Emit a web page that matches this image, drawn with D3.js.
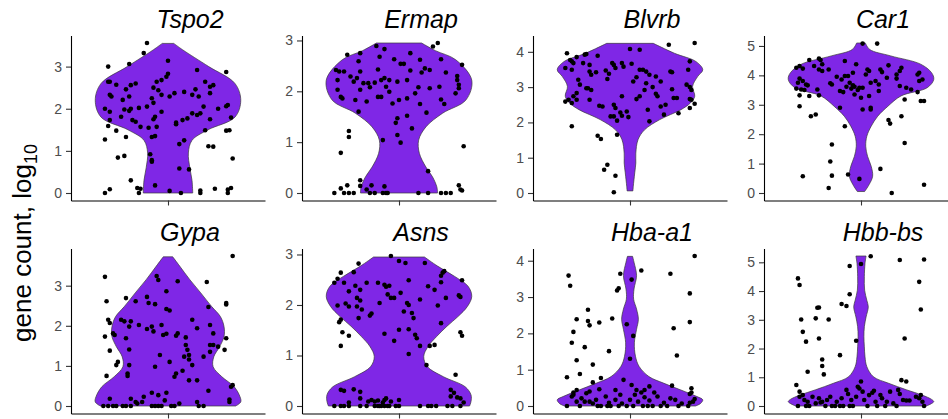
<!DOCTYPE html>
<html lang="en">
<head>
<meta charset="utf-8">
<title>Violin plots</title>
<script src="https://d3js.org/d3.v7.min.js"></script>
<style>
  body { margin: 0; background: #fff; }
  text { font-family: "Liberation Sans", Arial, Helvetica, sans-serif; }
</style>
</head>
<body>
<script>

// gene panels, left to right, top to bottom
var genes = ["Tspo2", "Ermap", "Blvrb", "Car1", "Gypa", "Asns", "Hba-a1", "Hbb-bs"];

// violin outlines: [log10 count, relative half width]
var tspo2Violin = [[0,0.34],[0.3,0.33],[0.6,0.3],[0.95,0.28],[1.25,0.33],[1.5,0.55],[1.8,0.92],[2.2,1.0],[2.6,0.92],[3.0,0.56],[3.4,0.2],[3.55,0.08]];
var ermapViolin = [[0,0.53],[0.12,0.52],[0.32,0.46],[0.51,0.37],[0.78,0.28],[1.04,0.27],[1.3,0.37],[1.57,0.6],[1.83,0.92],[2.22,1.0],[2.62,0.78],[2.8,0.5],[2.95,0.31]];
var blvrbViolin = [[0.06,0.04],[0.19,0.045],[0.57,0.065],[0.85,0.08],[1.13,0.08],[1.51,0.11],[1.79,0.2],[2.08,0.41],[2.36,0.7],[2.55,0.83],[2.74,0.89],[3.02,0.86],[3.3,0.93],[3.49,1.0],[3.72,0.91],[3.96,0.61],[4.24,0.32]];
var car1Violin = [[0.05,0.05],[0.28,0.11],[0.57,0.16],[0.91,0.14],[1.25,0.09],[1.59,0.065],[1.93,0.08],[2.27,0.14],[2.61,0.23],[2.95,0.37],[3.3,0.55],[3.58,0.91],[3.86,1.0],[4.09,0.97],[4.38,0.82],[4.66,0.41],[4.88,0.12],[5.1,0.06]];
var gypaViolin = [[0,0.93],[0.1,1.0],[0.23,0.99],[0.48,0.91],[0.73,0.74],[0.98,0.62],[1.23,0.63],[1.48,0.71],[1.73,0.77],[1.98,0.77],[2.23,0.72],[2.48,0.6],[2.82,0.45],[3.15,0.3],[3.49,0.16],[3.72,0.065]];
var asnsViolin = [[0,0.97],[0.09,0.99],[0.22,0.99],[0.38,0.91],[0.58,0.61],[0.78,0.39],[0.98,0.34],[1.18,0.4],[1.38,0.52],[1.58,0.66],[1.77,0.81],[1.97,0.94],[2.17,1.0],[2.37,0.95],[2.57,0.76],[2.77,0.53],[2.95,0.35]];
var hbaViolin = [[0,0.9],[0.07,0.97],[0.17,1.0],[0.26,0.92],[0.44,0.7],[0.63,0.46],[0.81,0.26],[1.09,0.125],[1.37,0.075],[1.74,0.06],[2.11,0.09],[2.39,0.115],[2.67,0.09],[2.94,0.05],[3.22,0.055],[3.59,0.09],[3.96,0.055],[4.12,0.035]];
var hbbViolin = [[0,0.9],[0.15,1.0],[0.23,0.97],[0.38,0.84],[0.56,0.63],[0.79,0.38],[1.02,0.17],[1.37,0.08],[1.71,0.055],[2.06,0.046],[2.41,0.04],[2.76,0.046],[3.1,0.07],[3.45,0.1],[3.68,0.08],[4.03,0.05],[4.5,0.046],[4.96,0.055],[5.22,0.07]];

// cells: [jitter offset, log10 count]
var tspo2Points = [[-0.37,3.0],[-0.13,3.56],[-0.15,3.32],[-0.24,3.06],[-0.37,2.64],[-0.36,2.64],[-0.32,2.57],[-0.36,2.33],[-0.35,2.29],[-0.39,2.0],[-0.36,1.93],[-0.37,1.59],[-0.36,1.73],[-0.39,1.27],[-0.32,1.48],[-0.31,0.84],[-0.27,0.88],[-0.26,1.33],[-0.23,0.30],[-0.19,0.12],[-0.39,0],[-0.36,0.09],[-0.18,0],[-0.17,0.1],[-0.08,0.18],[-0.26,2.46],[-0.23,2.56],[-0.20,2.6],[-0.28,2.21],[-0.24,2.29],[-0.27,1.98],[-0.24,1.95],[-0.23,2.0],[-0.29,1.81],[-0.22,1.73],[-0.20,1.69],[-0.18,2.02],[-0.13,2.05],[-0.17,1.57],[-0.12,1.55],[-0.10,2.25],[-0.09,2.14],[-0.09,2.5],[-0.07,2.64],[-0.04,2.68],[-0.01,2.76],[0,2.83],[0,3.14],[-0.04,2.33],[-0.06,2.44],[-0.08,1.81],[-0.09,1.75],[-0.07,1.57],[-0.10,1.33],[-0.08,1.35],[-0.11,0.92],[-0.10,0.78],[-0.10,0.74],[-0.04,1.93],[0.04,2.37],[0.01,2.29],[0.05,1.67],[0.05,1.63],[0.07,1.16],[0.10,1.25],[0.07,0.58],[0.13,0.56],[0.10,2.4],[0.09,1.73],[0.12,1.77],[0.15,2.33],[0.17,2.46],[0.18,1.85],[0.15,1.89],[0.20,1.89],[0.18,2.92],[0.19,2.29],[0.23,1.49],[0.25,1.11],[0.23,2.64],[0.26,2.52],[0.28,2.56],[0.26,2.37],[0.22,2.05],[0.26,1.75],[0.31,2.0],[0.28,1.10],[0.01,0.05],[0.20,0],[0.29,0.1],[0.20,0.06],[0.37,0.08],[0.39,0.12],[0.37,0],[0.36,2.87],[0.37,2.09],[0.36,2.06],[0.39,1.79],[0.36,1.48],[0.38,1.49],[0.40,0.82],[0.08,0]];
var ermapPoints = [[-0.40,0],[-0.36,0.09],[-0.34,0],[-0.31,0],[-0.32,0.15],[-0.28,0],[-0.24,0.25],[-0.24,0.14],[-0.20,0.07],[-0.17,0.15],[-0.18,0],[-0.15,0],[-0.10,0],[-0.08,0],[-0.09,0.13],[-0.07,0],[0.12,0],[0.18,0],[0.18,0.43],[0.26,0],[0.29,0],[0.32,0],[0.37,0.15],[0.38,0.07],[0.39,0.05],[0.40,0.92],[-0.36,0.79],[-0.31,1.22],[-0.31,1.1],[-0.10,1.04],[-0.01,1.14],[0.01,0.99],[-0.01,1.47],[-0.02,1.38],[0.05,1.52],[0.08,1.27],[0.17,1.58],[-0.39,2.42],[-0.37,2.39],[-0.34,2.39],[-0.38,2.22],[-0.38,2.03],[-0.36,1.89],[-0.35,1.86],[-0.32,2.72],[-0.30,2.29],[-0.28,2.19],[-0.26,2.26],[-0.25,2.59],[-0.24,2.75],[-0.24,2.39],[-0.27,1.83],[-0.25,1.6],[-0.22,2.16],[-0.24,2.03],[-0.19,2.16],[-0.18,2.08],[-0.20,1.8],[-0.14,2.89],[-0.12,2.68],[-0.13,2.43],[-0.13,1.89],[-0.11,1.89],[-0.15,2.17],[-0.11,2.22],[-0.09,2.26],[-0.06,2.22],[-0.09,2.83],[-0.06,1.99],[-0.08,2.09],[-0.03,2.63],[-0.01,2.19],[0,1.83],[-0.04,1.76],[0.01,2.54],[0.03,2.54],[0.05,2.22],[0.07,2.41],[0.07,2.75],[0.05,1.86],[0.10,1.96],[0.12,2.08],[0.14,2.37],[0.13,2.62],[0.13,1.75],[0.16,2.45],[0.19,2.42],[0.19,2.06],[0.21,2.88],[0.24,2.95],[0.26,2.63],[0.25,2.09],[0.26,1.84],[0.28,1.75],[0.29,2.37],[0.36,2.3],[0.36,2.22],[0.37,2.13],[0.37,2.06],[0.35,1.96],[0.39,2.52]];
var blvrbPoints = [[-0.39,3.96],[-0.40,3.54],[-0.37,3.77],[-0.36,3.73],[-0.35,3.68],[-0.33,3.85],[-0.36,3.49],[-0.40,2.59],[-0.38,2.64],[-0.35,2.74],[-0.36,2.55],[-0.33,2.83],[-0.32,3.21],[-0.31,3.07],[-0.33,2.64],[-0.36,1.89],[-0.28,3.92],[-0.27,3.94],[-0.29,3.68],[-0.25,3.63],[-0.25,3.44],[-0.24,3.35],[-0.27,2.97],[-0.26,2.97],[-0.24,2.92],[-0.25,2.64],[-0.20,3.89],[-0.21,3.42],[-0.19,2.47],[-0.17,2.45],[-0.20,1.62],[-0.18,1.53],[-0.16,0.66],[-0.14,0.80],[-0.14,3.23],[-0.13,3.38],[-0.15,3.47],[-0.11,3.68],[-0.10,3.63],[-0.09,3.54],[-0.10,2.5],[-0.09,2.41],[-0.12,2.17],[-0.10,2.17],[-0.08,2.05],[-0.09,0.49],[-0.10,0.02],[-0.08,1.65],[-0.06,2.28],[-0.05,3.68],[-0.04,3.58],[-0.05,2.19],[-0.02,2.31],[-0.01,2.15],[-0.05,2.74],[0,4.08],[0.01,3.66],[0.02,3.16],[0.04,3.28],[0.06,4.06],[0.04,2.66],[0.06,2.74],[0.06,3.49],[0.08,3.49],[0.10,3.44],[0.12,3.35],[0.09,2.92],[0.10,3.11],[0.11,2.36],[0.12,2.03],[0.14,3.0],[0.16,2.81],[0.16,3.3],[0.17,2.74],[0.19,2.45],[0.21,2.22],[0.22,2.5],[0.19,3.16],[0.24,4.2],[0.25,3.44],[0.26,3.42],[0.26,2.94],[0.27,2.69],[0.29,2.69],[0.30,2.26],[0.37,3.73],[0.36,3.49],[0.35,3.07],[0.37,3.0],[0.38,2.92],[0.37,2.66],[0.38,2.64],[0.40,2.53],[0.40,4.25],[0.37,2.41]];
var car1Points = [[-0.40,4.26],[-0.38,4.32],[-0.36,4.23],[-0.32,4.52],[-0.38,3.89],[-0.40,3.55],[-0.39,3.75],[-0.36,3.81],[-0.34,3.69],[-0.33,3.66],[-0.37,3.52],[-0.35,3.5],[-0.38,3.32],[-0.38,2.95],[-0.32,3.3],[-0.31,2.61],[-0.28,2.67],[-0.36,0.57],[-0.29,4.32],[-0.26,4.57],[-0.25,4.52],[-0.24,4.38],[-0.26,4.2],[-0.24,4.15],[-0.27,3.52],[-0.26,3.32],[-0.20,4.2],[-0.19,3.73],[-0.18,3.69],[-0.18,1.65],[-0.19,1.07],[-0.18,0.59],[-0.20,0.17],[-0.15,3.95],[-0.12,3.86],[-0.13,3.47],[-0.11,3.43],[-0.13,2.9],[-0.10,2.27],[-0.10,4.49],[-0.10,3.98],[-0.08,3.98],[-0.09,3.61],[-0.07,3.75],[-0.06,3.55],[-0.05,3.66],[-0.04,3.35],[-0.08,0.63],[-0.05,4.09],[-0.03,4.38],[-0.04,3.61],[-0.02,3.5],[-0.01,3.58],[0,3.24],[0.01,2.84],[0.01,5.08],[-0.01,0.48],[0.01,3.58],[0.03,4.03],[0.04,4.2],[0.05,4.15],[0.06,3.75],[0.05,3.3],[0.06,2.9],[0.06,2.84],[0.10,5.08],[0.09,3.81],[0.11,3.69],[0.12,4.2],[0.13,4.11],[0.11,3.47],[0.12,0.82],[0.16,3.92],[0.17,4.34],[0.17,2.48],[0.18,2.36],[0.19,0],[0.22,3.89],[0.22,4.03],[0.24,4.15],[0.25,4.26],[0.24,3.64],[0.25,2.61],[0.27,3.18],[0.27,1.7],[0.28,3.58],[0.31,3.52],[0.35,4.03],[0.36,4.09],[0.36,3.81],[0.38,3.86],[0.35,3.43],[0.37,3.13],[0.39,3.13],[0.39,0.28]];
var gypaPoints = [[-0.40,0],[-0.37,0],[-0.34,0],[-0.32,0],[-0.28,0],[-0.26,0],[-0.23,0],[-0.10,0],[-0.08,0],[-0.06,0],[-0.04,0],[0.02,0],[0.04,0],[0.19,0],[0.22,0],[-0.36,0.18],[-0.20,0.1],[-0.19,0.06],[-0.16,0.1],[-0.15,0.23],[-0.10,0.33],[-0.06,0.27],[-0.02,0.14],[-0.01,0.33],[0.07,0.06],[0.18,0.1],[0.25,0.38],[0.38,0.16],[0.38,0.1],[0.39,0.48],[0.40,0.52],[-0.23,0.18],[-0.39,3.22],[-0.38,2.61],[-0.37,2.15],[-0.36,2.07],[-0.39,1.73],[-0.36,1.38],[-0.38,0.75],[-0.34,1.81],[-0.33,1.77],[-0.31,1.1],[-0.32,1.02],[-0.29,2.15],[-0.27,2.11],[-0.26,2.69],[-0.26,1.69],[-0.25,0.81],[-0.25,0.75],[-0.24,1.98],[-0.23,2.11],[-0.24,1.41],[-0.24,1.02],[-0.20,2.61],[-0.18,2.02],[-0.13,2.72],[-0.12,2.57],[-0.08,2.54],[-0.13,1.92],[-0.10,1.98],[-0.09,1.86],[-0.07,3.24],[-0.06,3.14],[-0.05,1.27],[-0.08,0.98],[-0.04,2.02],[-0.03,1.77],[-0.01,1.8],[-0.01,2.86],[-0.01,2.42],[0.01,2.38],[0.01,1.1],[0.04,0.73],[0.05,0.81],[0.06,3.11],[0.06,1.81],[0.05,1.75],[0.09,0.88],[0.11,1.71],[0.11,1.52],[0.10,1.23],[0.12,1.4],[0.13,1.27],[0.13,1.16],[0.15,1.02],[0.13,0.64],[0.18,0.64],[0.15,2.15],[0.18,1.94],[0.22,1.23],[0.24,3.09],[0.25,2.47],[0.26,2.02],[0.26,1.52],[0.26,1.35],[0.28,1.81],[0.28,1.52],[0.31,1.48],[0.36,2.53],[0.36,2.57],[0.35,1.4],[0.36,1.69],[0.40,3.74]];
var asnsPoints = [[-0.40,0],[-0.36,0],[-0.34,0],[-0.31,0],[-0.24,0],[-0.20,0],[-0.15,0],[-0.13,0],[-0.12,0],[-0.11,0],[-0.09,0],[-0.07,0],[-0.06,0],[-0.02,0],[0,0],[0.13,0],[0.18,0],[0.20,0],[0.23,0],[0.30,0],[0.33,0],[0.38,0],[-0.36,0.32],[-0.34,0.3],[-0.28,0.33],[-0.24,0.28],[-0.24,0.15],[-0.31,0.07],[-0.19,0.09],[-0.17,0.12],[-0.15,0.09],[-0.13,0.11],[-0.10,0.07],[-0.09,0.12],[-0.08,0.15],[-0.05,0.09],[0,0.12],[0.32,0.32],[0.34,0.26],[0.32,0.19],[0.36,0.17],[0.38,0.15],[0.40,0.07],[-0.40,2.44],[-0.38,2.52],[-0.36,2.64],[-0.38,1.99],[-0.37,1.66],[-0.36,1.71],[-0.35,1.46],[-0.36,1.19],[-0.31,1.39],[-0.33,2.03],[-0.31,1.97],[-0.34,2.44],[-0.31,2.27],[-0.28,2.65],[-0.25,2.82],[-0.27,2.38],[-0.26,2.14],[-0.24,2.09],[-0.26,1.97],[-0.25,1.74],[-0.23,1.91],[-0.24,2.3],[-0.20,2.44],[-0.18,1.79],[-0.17,1.83],[-0.13,2.44],[-0.12,2.04],[-0.09,1.43],[-0.09,2.4],[-0.08,2.36],[-0.06,2.38],[-0.07,2.21],[-0.05,2.14],[-0.03,2.14],[-0.05,2.97],[-0.03,1.29],[0,2.87],[0.01,2.24],[0,1.51],[0.04,2.83],[0.03,1.87],[0.05,2.04],[0.06,2.0],[0.06,2.49],[0.08,1.84],[0.09,1.74],[0.06,1.52],[0.10,1.41],[0.11,1.34],[0.06,1.03],[0.13,2.11],[0.13,1.19],[0.16,2.83],[0.17,0.81],[0.18,2.37],[0.19,1.19],[0.22,2.3],[0.22,1.21],[0.24,1.99],[0.26,1.64],[0.26,2.45],[0.26,2.58],[0.27,2.64],[0.28,2.67],[0.29,2.14],[0.35,0.62],[0.37,2.19],[0.38,2.16],[0.38,1.46],[0.39,1.39],[0.39,2.49]];
var hbaPoints = [[-0.38,3.59],[-0.37,3.31],[-0.33,2.39],[-0.35,2.04],[-0.36,1.74],[-0.33,1.26],[-0.39,0.79],[-0.31,0.88],[-0.26,2.65],[-0.26,2.34],[-0.25,2.22],[-0.28,1.62],[-0.23,1.14],[-0.19,2.3],[-0.11,2.41],[-0.13,1.51],[-0.08,3.18],[-0.07,3.24],[-0.06,3.64],[0.01,3.48],[-0.02,2.25],[0.02,1.93],[0,1.3],[0.07,3.73],[0.25,3.64],[0.27,2.14],[0.29,1.39],[0.37,3.1],[0.37,2.31],[0.40,4.13],[0.26,0.56],[0.38,0.49],[0.38,0.37],[0.37,0.33],[-0.23,0.65],[-0.18,0.77],[-0.04,0.72],[0.01,0.58],[0.09,0.44],[0.12,0.54],[-0.39,0],[-0.36,0.26],[-0.35,0.31],[-0.35,0.37],[-0.33,0.44],[-0.33,0.12],[-0.31,0],[-0.30,0.21],[-0.27,0.35],[-0.25,0.4],[-0.25,0.12],[-0.23,0.07],[-0.21,0.17],[-0.20,0],[-0.18,0],[-0.19,0.46],[-0.15,0.26],[-0.14,0],[-0.13,0.09],[-0.12,0],[-0.09,0.44],[-0.09,0.17],[-0.07,0],[-0.06,0.31],[-0.05,0.07],[-0.02,0],[0,0.17],[0.02,0],[0.03,0.31],[0.05,0.12],[0.07,0.37],[0.08,0],[0.09,0.24],[0.11,0],[0.12,0.15],[0.14,0],[0.15,0.37],[0.17,0.26],[0.19,0],[0.21,0.09],[0.23,0],[0.25,0.21],[0.28,0.17],[0.30,0],[0.32,0.07],[0.36,0],[0.37,0.09],[0.39,0.12],[0.40,0.19],[-0.28,0.12],[0.04,0.44]];
var hbbPoints = [[-0.39,4.44],[-0.38,4.21],[-0.37,3.01],[-0.36,2.58],[-0.34,2.24],[-0.33,1.19],[-0.40,0.73],[-0.38,0.5],[-0.28,3.05],[-0.27,3.42],[-0.26,3.43],[-0.26,2.35],[-0.24,1.62],[-0.24,1.39],[-0.23,1.1],[-0.20,3.01],[-0.13,1.77],[-0.12,3.55],[-0.09,3.48],[-0.07,4.87],[-0.07,3.89],[-0.03,2.27],[0,4.94],[0.06,5.21],[0.24,5.08],[0.39,5.1],[0.36,4.32],[0.37,3.36],[0.27,2.35],[0.25,0.9],[0.28,0.85],[-0.39,0],[-0.38,0.32],[-0.36,0.38],[-0.35,0.21],[-0.34,0],[-0.33,0.15],[-0.32,0],[-0.30,0.32],[-0.28,0.09],[-0.26,0.27],[-0.25,0.12],[-0.24,0.15],[-0.22,0],[-0.21,0.21],[-0.19,0.32],[-0.18,0],[-0.16,0],[-0.15,0.15],[-0.13,0],[-0.12,0.27],[-0.11,0],[-0.09,0.56],[-0.08,0.42],[-0.07,0],[-0.06,0.21],[-0.05,0],[-0.03,0.32],[-0.02,0.67],[-0.01,0.61],[0,0.85],[0.01,0.5],[0.02,0.21],[0.04,0],[0.05,0.38],[0.07,0.46],[0.08,0.53],[0.09,0.15],[0.10,0],[0.12,0.38],[0.13,0.27],[0.15,0],[0.16,0.15],[0.18,0.5],[0.20,0.09],[0.22,0],[0.23,0.56],[0.24,0.42],[0.26,0.21],[0.28,0.19],[0.30,0.19],[0.34,0.32],[0.36,0.27],[0.38,0.15],[0.39,0],[0.37,0.38]];

var violins = [tspo2Violin, ermapViolin, blvrbViolin, car1Violin, gypaViolin, asnsViolin, hbaViolin, hbbViolin];
var cells = [tspo2Points, ermapPoints, blvrbPoints, car1Points, gypaPoints, asnsPoints, hbaPoints, hbbPoints];

var w = 948, h = 419;
var panelW = 194, panelH = 165, colStep = 231;
var rowTop = [35.5, 248.5];
var fillColor = "#7f27e6";

var svg = d3.select("body").append("svg").attr("width", w).attr("height", h);

genes.forEach(function(gene, i) {
    var col = i % 4, row = Math.floor(i / 4);
    var left = 71 + colStep * col, top = rowTop[row], bottom = top + panelH;
    var shape = violins[i], pts = cells[i];

    var yMax = d3.max(shape.map(function(d) { return d[0]; }).concat(pts.map(function(d) { return d[1]; })));

    var x = d3.scaleLinear().domain([0.4, 1.6]).range([left, left + panelW]);
    var y = d3.scaleLinear().domain([-0.05 * yMax, 1.05 * yMax]).range([bottom, top]);

    var g = svg.append("g");

    var area = d3.area()
        .y(function(d) { return y(d[0]); })
        .x0(function(d) { return x(1 - 0.45 * d[1]); })
        .x1(function(d) { return x(1 + 0.45 * d[1]); })
        .curve(d3.curveCatmullRom);

    g.append("path").datum(shape).attr("d", area)
        .attr("fill", fillColor).attr("stroke", "#3a3a3a").attr("stroke-width", 0.7);

    g.selectAll("circle").data(pts).join("circle")
        .attr("cx", function(d) { return x(1 + d[0]); })
        .attr("cy", function(d) { return y(d[1]); })
        .attr("r", 2.3).attr("fill", "#000");

    // integer ticks that fit inside the expanded range
    var yTicks = d3.range(0, Math.floor(y.domain()[1]) + 1);

    var yAxis = g.append("g").attr("transform", "translate(" + left + ",0)")
        .call(d3.axisLeft(y).tickValues(yTicks).tickFormat(d3.format("d"))
            .tickSize(5).tickSizeOuter(0).tickPadding(4));
    var xAxis = g.append("g").attr("transform", "translate(0," + bottom + ")")
        .call(d3.axisBottom(x).tickValues([1]).tickFormat("").tickSize(5).tickSizeOuter(0));

    [yAxis, xAxis].forEach(function(a) {
        a.select(".domain").attr("stroke", "#000").attr("stroke-width", 1.1);
        a.selectAll(".tick line").attr("stroke", "#333").attr("stroke-width", 1.1);
        a.selectAll(".tick text").attr("fill", "#4d4d4d").style("font-size", "14px");
    });

    g.append("text").attr("x", x(1) + 22).attr("y", top - 8)
        .attr("text-anchor", "middle").style("font-size", "25px").style("font-style", "italic")
        .attr("fill", "#000").text(gene);
});

var ylab = svg.append("text").attr("transform", "translate(31,243) rotate(-90)")
    .attr("text-anchor", "middle").style("font-size", "26px").attr("fill", "#000");
ylab.append("tspan").text("gene count, log");
ylab.append("tspan").attr("dy", 6).style("font-size", "18px").text("10");

</script>
</body>
</html>
